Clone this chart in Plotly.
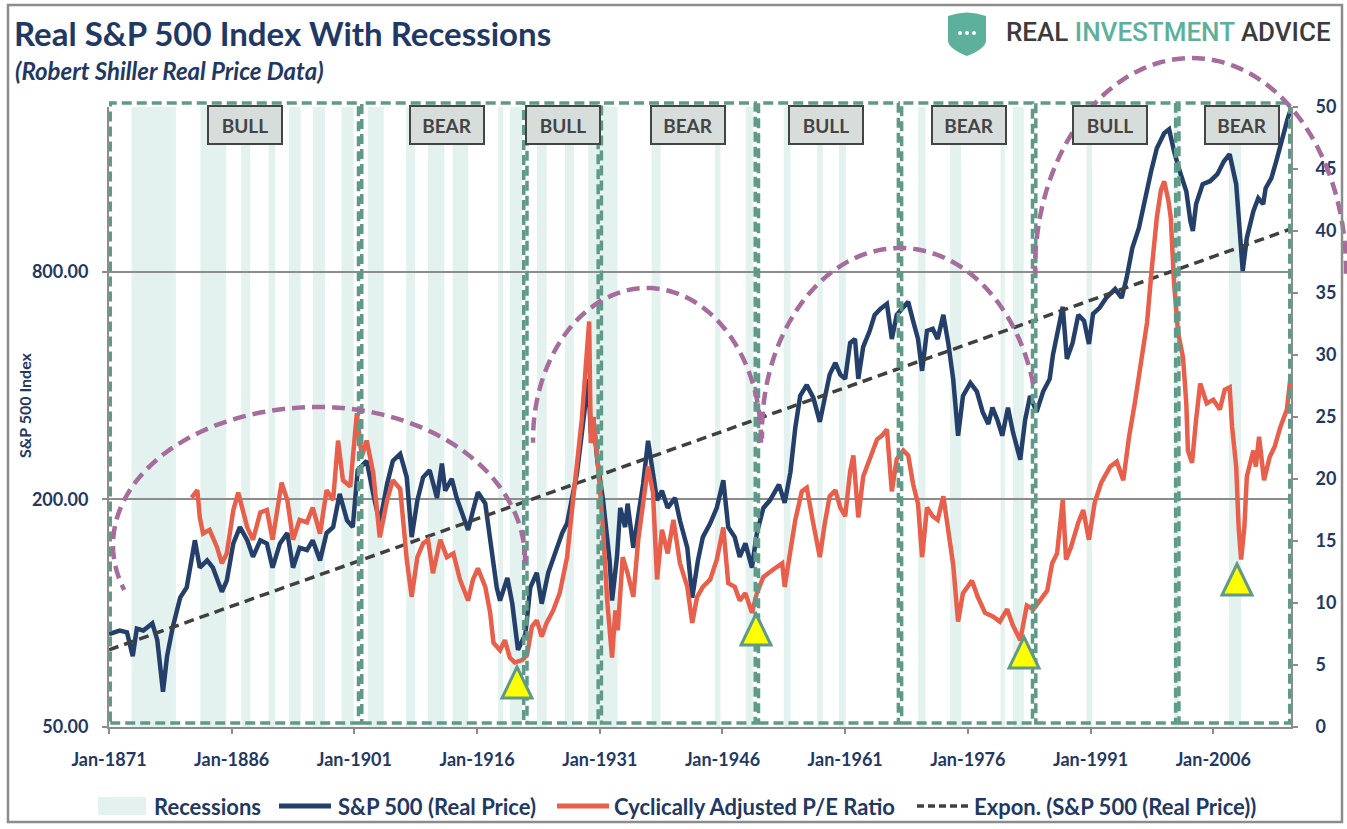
import math
import plotly.graph_objects as go

# ------------------------------------------------------------------ data
sp_year = [1871.0, 1872.3, 1873.2, 1873.9, 1874.4, 1875.2, 1876.3, 1876.9, 1877.6, 1878.1,
           1878.8, 1879.7, 1880.5, 1881.5, 1882.1, 1883.0, 1883.7, 1884.8, 1885.4, 1886.2,
           1887.0, 1887.9, 1888.6, 1889.5, 1890.3, 1891.0, 1891.9, 1892.8, 1893.5, 1894.3,
           1895.2, 1895.9, 1896.8, 1897.6, 1898.4, 1899.2, 1900.1, 1900.8, 1901.4, 1902.5,
           1903.3, 1904.1, 1905.0, 1905.7, 1906.6, 1907.4, 1908.0, 1908.7, 1909.4, 1910.2,
           1911.1, 1911.7, 1912.1, 1912.9, 1913.5, 1914.2, 1914.9, 1915.5, 1916.1, 1917.0,
           1917.6, 1918.4, 1918.8, 1919.7, 1920.3, 1921.0, 1921.9, 1922.5, 1923.3, 1923.9,
           1924.7, 1925.5, 1926.4, 1927.0, 1927.6, 1928.2, 1928.8, 1929.6, 1929.9, 1930.2,
           1930.7, 1931.4, 1932.2, 1932.5, 1933.1, 1933.5, 1934.1, 1934.4, 1935.1, 1935.7,
           1936.3, 1936.9, 1937.4, 1938.0, 1938.6, 1939.3, 1940.2, 1940.8, 1941.7, 1942.3,
           1943.0, 1943.6, 1944.5, 1945.3, 1946.1, 1946.7, 1947.5, 1948.1, 1948.8, 1949.6,
           1950.2, 1951.0, 1951.8, 1952.9, 1953.6, 1954.3, 1954.9, 1955.5, 1956.3, 1957.1,
           1957.9, 1958.5, 1959.1, 1959.8, 1960.4, 1961.0, 1961.6, 1962.2, 1962.6, 1963.2,
           1964.0, 1964.6, 1965.3, 1966.1, 1966.7, 1967.3, 1968.1, 1968.7, 1969.3, 1969.9,
           1970.4, 1971.0, 1971.7, 1972.3, 1973.0, 1973.6, 1974.2, 1974.8, 1975.4, 1976.3,
           1977.1, 1977.8, 1978.5, 1979.0, 1979.6, 1980.2, 1980.9, 1981.5, 1982.4, 1983.0,
           1983.6, 1984.4, 1985.2, 1986.0, 1986.4, 1987.0, 1987.6, 1988.1, 1988.8, 1989.5,
           1990.2, 1990.8, 1991.3, 1992.1, 1992.9, 1994.0, 1994.8, 1995.4, 1996.1, 1996.9,
           1997.5, 1998.4, 1999.1, 2000.0, 2000.6, 2001.2, 2001.9, 2002.7, 2003.2, 2003.5,
           2003.9, 2004.7, 2005.6, 2006.5, 2007.3, 2008.0, 2008.8, 2009.1, 2009.6, 2010.1,
           2010.9, 2011.5, 2012.1, 2012.4, 2013.1, 2013.7, 2014.3, 2015.1, 2015.4]
sp_price = [88, 90, 89, 77, 91, 90, 94, 85, 62, 77,
            92, 110, 117, 156, 132, 138, 132, 114, 122, 153,
            169, 156, 141, 156, 153, 132, 153, 163, 132, 149,
            147, 156, 138, 163, 169, 207, 176, 169, 239, 253,
            207, 173, 220, 253, 264, 229, 159, 199, 229, 239,
            202, 249, 211, 227, 202, 184, 166, 187, 209, 195,
            153, 117, 108, 124, 106, 80, 88, 117, 128, 106,
            128, 144, 163, 173, 199, 234, 299, 417, 299, 330,
            253, 199, 138, 108, 141, 190, 169, 195, 149, 179,
            220, 286, 243, 199, 211, 190, 202, 176, 149, 110,
            138, 159, 173, 190, 225, 169, 159, 141, 153, 132,
            163, 190, 199, 219, 196, 236, 310, 376, 402, 372,
            321, 376, 428, 460, 428, 417, 519, 532, 417, 507,
            559, 616, 639, 659, 532, 616, 647, 667, 594, 532,
            438, 559, 566, 532, 616, 519, 417, 295, 376, 407,
            386, 341, 317, 350, 325, 295, 350, 302, 255, 325,
            376, 341, 386, 417, 483, 559, 647, 471, 519, 616,
            594, 516, 620, 643, 683, 721, 683, 771, 925, 1045,
            1210, 1478, 1700, 1863, 1908, 1670, 1478, 1309, 1091, 1027,
            1210, 1366, 1391, 1452, 1571, 1639, 1366, 1111, 805, 984,
            1159, 1254, 1210, 1333, 1417, 1571, 1774, 2040, 2130]

cape_year = [1881.1, 1881.8, 1882.1, 1882.5, 1883.3, 1884.2, 1884.8, 1885.4, 1886.2, 1886.8,
             1887.9, 1888.6, 1889.5, 1890.3, 1891.0, 1892.1, 1892.8, 1893.5, 1894.3, 1895.2,
             1895.9, 1896.8, 1897.6, 1898.4, 1899.0, 1899.6, 1900.5, 1901.3, 1901.9, 1902.5,
             1903.3, 1904.1, 1905.0, 1905.7, 1906.6, 1907.4, 1908.0, 1908.7, 1909.4, 1910.0,
             1910.6, 1911.5, 1912.3, 1913.1, 1913.9, 1914.9, 1915.5, 1916.1, 1917.0, 1917.6,
             1918.0, 1918.8, 1919.4, 1920.0, 1920.6, 1921.5, 1922.1, 1922.7, 1923.3, 1923.9,
             1924.5, 1925.3, 1926.1, 1927.0, 1927.6, 1928.2, 1928.8, 1929.7, 1929.9, 1930.2,
             1930.8, 1931.4, 1931.9, 1932.5, 1932.9, 1933.2, 1933.8, 1934.4, 1935.1, 1935.7,
             1936.3, 1936.9, 1937.5, 1938.0, 1938.6, 1939.3, 1940.0, 1940.8, 1941.7, 1942.3,
             1942.9, 1943.6, 1944.5, 1945.3, 1946.1, 1946.7, 1947.5, 1948.1, 1948.8, 1949.6,
             1950.2, 1951.0, 1952.2, 1953.3, 1953.6, 1954.3, 1954.9, 1955.7, 1956.3, 1957.1,
             1957.9, 1958.5, 1959.1, 1959.8, 1960.4, 1961.0, 1961.6, 1962.0, 1962.6, 1963.2,
             1964.0, 1964.9, 1965.5, 1966.1, 1966.7, 1967.3, 1968.1, 1968.7, 1969.3, 1969.9,
             1970.4, 1971.0, 1971.7, 1972.3, 1973.0, 1973.6, 1974.2, 1974.8, 1975.4, 1976.5,
             1977.2, 1978.1, 1979.1, 1979.9, 1980.8, 1981.5, 1982.4, 1983.2, 1984.0, 1984.8,
             1985.7, 1986.3, 1986.9, 1987.6, 1988.0, 1988.6, 1989.5, 1990.1, 1990.8, 1991.5,
             1992.3, 1993.4, 1994.2, 1995.0, 1995.7, 1996.4, 1997.3, 1997.9, 1998.5, 1999.1,
             1999.6, 2000.0, 2000.5, 2000.8, 2001.2, 2001.7, 2002.3, 2002.7, 2002.9, 2003.4,
             2003.9, 2004.4, 2005.2, 2006.0, 2006.8, 2007.4, 2008.0, 2008.3, 2008.8, 2009.1,
             2009.4, 2009.8, 2010.1, 2010.9, 2011.2, 2011.6, 2012.2, 2012.9, 2013.5, 2014.2,
             2015.0, 2015.4]
cape_ratio = [18.5, 19.1, 16.9, 15.6, 15.9, 14.5, 13.2, 14.0, 17.5, 18.9,
              16.1, 15.1, 17.3, 17.5, 15.1, 19.7, 18.3, 15.1, 16.7, 16.5,
              17.7, 15.6, 19.1, 18.3, 23.1, 19.9, 19.4, 25.3, 21.8, 23.1,
              20.5, 15.3, 18.3, 19.9, 19.2, 13.5, 10.5, 13.7, 14.8, 15.1,
              12.4, 15.1, 13.7, 14.0, 11.9, 10.2, 11.9, 12.8, 11.3, 9.2,
              6.8, 6.2, 7.0, 5.6, 5.2, 5.4, 5.8, 8.1, 8.6, 7.3,
              8.4, 9.4, 10.8, 13.7, 17.5, 21.0, 24.8, 32.7, 22.9, 25.0,
              21.0, 15.9, 10.2, 5.6, 9.4, 7.8, 13.7, 12.4, 10.5, 15.1,
              18.3, 21.0, 18.9, 11.9, 15.9, 14.0, 16.7, 13.2, 11.3, 8.4,
              10.5, 11.3, 11.9, 13.5, 16.1, 11.6, 11.3, 10.2, 10.8, 9.2,
              10.8, 12.1, 12.7, 13.2, 11.3, 14.1, 16.7, 19.0, 19.3, 16.4,
              13.7, 16.4, 18.6, 19.1, 17.7, 17.0, 20.6, 21.9, 16.9, 20.2,
              21.6, 23.2, 23.5, 24.0, 19.0, 21.6, 22.3, 21.9, 19.6, 18.0,
              13.7, 17.7, 17.0, 16.7, 18.6, 15.7, 13.1, 8.5, 10.8, 11.8,
              10.5, 9.2, 8.9, 8.5, 9.5, 8.2, 7.0, 9.8, 9.5, 10.2,
              11.0, 13.2, 14.0, 18.3, 13.5, 14.5, 16.5, 17.5, 15.1, 18.1,
              19.7, 21.0, 21.4, 19.9, 23.4, 26.1, 29.8, 32.6, 37.1, 41.1,
              43.3, 44.0, 42.5, 41.1, 35.8, 31.8, 29.8, 26.1, 22.3, 21.3,
              24.8, 27.7, 26.1, 26.4, 25.6, 27.2, 27.4, 24.2, 21.0, 16.1,
              13.5, 16.1, 20.2, 22.3, 21.0, 23.4, 19.9, 21.8, 22.6, 24.2,
              25.6, 28.0]

trend_year = [1871.0, 2015.5]
trend_price = [80, 1040]

rec_start = [1873.75, 1882.17, 1887.17, 1890.5, 1893.0, 1895.92, 1899.42, 1902.67, 1907.33,
             1910.0, 1913.0, 1918.58, 1920.0, 1923.33, 1926.75, 1929.58, 1937.33, 1945.08,
             1948.83, 1953.5, 1957.58, 1960.25, 1969.92, 1973.83, 1980.0, 1981.5, 1990.5,
             2001.17, 2007.92]
rec_end = [1879.17, 1885.33, 1888.25, 1891.33, 1894.42, 1897.42, 1900.92, 1904.58, 1908.42,
           1912.0, 1914.92, 1919.17, 1921.5, 1924.5, 1927.83, 1933.17, 1938.42, 1945.75,
           1949.75, 1954.33, 1958.25, 1961.08, 1970.83, 1975.17, 1980.5, 1982.83, 1991.17,
           2001.83, 2009.42]

x_tick_years = [1871, 1886, 1901, 1916, 1931, 1946, 1961, 1976, 1991, 2006]
x_tick_text = ["Jan-1871", "Jan-1886", "Jan-1901", "Jan-1916", "Jan-1931",
               "Jan-1946", "Jan-1961", "Jan-1976", "Jan-1991", "Jan-2006"]
left_tick_vals = [50, 200, 800]
left_tick_text = ["50.00", "200.00", "800.00"]
right_tick_vals = [0, 5, 10, 15, 20, 25, 30, 35, 40, 45, 50]

phase_bounds = [1871.15, 1901.7, 1921.9, 1931.0, 1950.2, 1967.7, 1984.1, 2001.6, 2015.35]
phase_labels = ["BULL", "BEAR", "BULL", "BEAR", "BULL", "BEAR", "BULL", "BEAR"]
phase_label_years = [1887.6, 1912.3, 1926.5, 1941.8, 1958.7, 1976.1, 1993.4, 2009.5]

# ------------------------------------------------------------------ layout helpers
FIG_W, FIG_H = 1347, 829
L, R, T, B = 109, 1291, 107, 727


def px(x):
    return (x - L) / (R - L)


def py(y):
    return (B - y) / (B - T)


NAVY_TEXT = "#1F3864"
NAVY_LINE = "#24406A"
RED_LINE = "#E8604C"
GREEN = "#5F9A88"
PURPLE = "#A56C9C"
GRAY = "#8C8C8C"
FONT = "Lato"


def ellipse_pts(cx, cy, rx, ry, t0, t1, n=40):
    pts = []
    for i in range(n + 1):
        t = math.radians(t0 + (t1 - t0) * i / n)
        pts.append((cx + rx * math.cos(t), cy - ry * math.sin(t)))
    return pts


def pts_path(pts, close=False):
    s = "M " + " L ".join(f"{px(x):.5f},{py(y):.5f}" for x, y in pts)
    return s + (" Z" if close else "")


def arc(cx, right, left):
    # right / left: (cy, rx, ry, t_end)
    cyr, rxr, ryr, tr = right
    cyl, rxl, ryl, tl = left
    pts = ellipse_pts(cx, cyr, rxr, ryr, tr, 90) + ellipse_pts(cx, cyl, rxl, ryl, 90, tl)[1:]
    return pts_path(pts)


shapes = []

# recession bands
for s, e in zip(rec_start, rec_end):
    shapes.append(dict(type="rect", xref="x", yref="paper", x0=s, x1=e, y0=0, y1=1,
                       fillcolor="#E3F2EE", line=dict(width=0), layer="between"))

# phase boxes (green dashed)
for i in range(len(phase_bounds) - 1):
    x0 = phase_bounds[i] + (0 if i == 0 else 0.2)
    x1 = phase_bounds[i + 1] - (0 if i == len(phase_bounds) - 2 else 0.2)
    shapes.append(dict(type="rect", xref="x", yref="paper", x0=x0, x1=x1,
                       y0=py(723), y1=py(103), fillcolor="rgba(0,0,0,0)",
                       line=dict(color=GREEN, width=3.5, dash="10px,5px"), layer="above"))

# purple arcs
arcs = [
    arc(318, (560, 207, 153, -1), (545, 205, 138, 199)),
    arc(647, (440, 114, 152, -1), (440, 114, 152, 181)),
    arc(900, (432, 138, 184, 15), (432, 138, 184, 182)),
    arc(1192, (270, 154, 212, -1), (270, 157, 212, 181)),
]
for p in arcs:
    shapes.append(dict(type="path", xref="paper", yref="paper", path=p,
                       line=dict(color=PURPLE, width=4.5, dash="13px,7px"), layer="above"))

# yellow triangles
for cx, top in [(517, 667), (756, 614), (1024, 637), (1237, 564)]:
    tri = [(cx, top), (cx + 15, top + 31), (cx - 15, top + 31)]
    shapes.append(dict(type="path", xref="paper", yref="paper", path=pts_path(tri, True),
                       fillcolor="#FFFF00", line=dict(color=GREEN, width=3), layer="above"))

# outer frame
shapes.append(dict(type="rect", xref="paper", yref="paper", x0=px(8), x1=px(1342),
                   y0=py(822), y1=py(5), line=dict(color=GRAY, width=2.5),
                   fillcolor="rgba(0,0,0,0)", layer="above"))

# logo shield
shield = (f"M {px(948):.5f},{py(16):.5f} Q {px(967):.5f},{py(9):.5f} {px(986):.5f},{py(16):.5f} "
          f"L {px(986):.5f},{py(41):.5f} Q {px(985):.5f},{py(49):.5f} {px(967):.5f},{py(56):.5f} "
          f"Q {px(949):.5f},{py(49):.5f} {px(948):.5f},{py(41):.5f} Z")
shapes.append(dict(type="path", xref="paper", yref="paper", path=shield,
                   fillcolor="#5DB09C", line=dict(width=0), layer="above"))
for dx in (960, 967, 974):
    shapes.append(dict(type="circle", xref="paper", yref="paper",
                       x0=px(dx - 2), x1=px(dx + 2), y0=py(35), y1=py(31),
                       fillcolor="white", line=dict(width=0), layer="above"))

# legend marks
shapes.append(dict(type="rect", xref="paper", yref="paper", x0=px(98), x1=px(146),
                   y0=py(815), y1=py(797), fillcolor="#E3F2EE", line=dict(width=0)))
shapes.append(dict(type="line", xref="paper", yref="paper", x0=px(279), x1=px(331),
                   y0=py(806), y1=py(806), line=dict(color=NAVY_LINE, width=5)))
shapes.append(dict(type="line", xref="paper", yref="paper", x0=px(557), x1=px(609),
                   y0=py(806), y1=py(806), line=dict(color=RED_LINE, width=5)))
shapes.append(dict(type="line", xref="paper", yref="paper", x0=px(917), x1=px(969),
                   y0=py(806), y1=py(806), line=dict(color="#404040", width=3.5, dash="7px,4px")))

annotations = []


def text_at(x, y, txt, size, color=NAVY_TEXT, xanchor="left", weight="bold", family=FONT, **kw):
    annotations.append(dict(x=px(x), y=py(y), xref="paper", yref="paper", text=txt,
                            showarrow=False, xanchor=xanchor, yanchor="middle",
                            font=dict(family=family, size=size, color=color, weight=weight), **kw))


text_at(12, 33, "Real S&P 500 Index With Recessions", 33)
text_at(13, 70, "<i>(Robert Shiller Real Price Data)</i>", 24)
text_at(1004, 32, 'REAL <span style="color:#5DB09C">INVESTMENT</span> ADVICE', 26,
        color="#3B3B3B", weight=500, family="Roboto")
text_at(25, 405, "S&P 500 Index", 16, xanchor="center", textangle=-90)

text_at(152, 806, "Recessions", 22)
text_at(336, 806, "S&P 500 (Real Price)", 22)
text_at(612, 806, "Cyclically Adjusted P/E Ratio", 22)
text_at(972, 806, "Expon. (S&P 500 (Real Price))", 22)

for name, yr in zip(phase_labels, phase_label_years):
    annotations.append(dict(x=yr, xref="x", y=py(125), yref="paper", text=name,
                            showarrow=False, xanchor="center", yanchor="middle",
                            font=dict(family=FONT, size=19, color="#444444", weight="bold"),
                            bgcolor="#D6DDDA", bordercolor="#444444", borderwidth=2,
                            borderpad=0, width=72, height=36))

# ------------------------------------------------------------------ figure
fig = go.Figure()
fig.add_trace(go.Scatter(x=sp_year, y=sp_price, mode="lines", yaxis="y",
                         line=dict(color=NAVY_LINE, width=4.5), hoverinfo="skip",
                         showlegend=False, name="S&P 500 (Real Price)"))
fig.add_trace(go.Scatter(x=trend_year, y=trend_price, mode="lines", yaxis="y",
                         line=dict(color="#404040", width=3.5, dash="10px,6px"),
                         hoverinfo="skip", showlegend=False,
                         name="Expon. (S&P 500 (Real Price))"))
fig.add_trace(go.Scatter(x=cape_year, y=cape_ratio, mode="lines", yaxis="y2",
                         line=dict(color=RED_LINE, width=4.5), hoverinfo="skip",
                         showlegend=False, name="Cyclically Adjusted P/E Ratio"))

tick_font = dict(family=FONT, size=18, color=NAVY_TEXT, weight="bold")
fig.update_layout(
    width=FIG_W, height=FIG_H, autosize=False,
    margin=dict(l=L, r=FIG_W - R, t=T, b=FIG_H - B, pad=0),
    paper_bgcolor="white", plot_bgcolor="white",
    showlegend=False,
    xaxis=dict(range=[1871.0, 2015.5], tickmode="array", tickvals=x_tick_years,
               ticktext=x_tick_text, showgrid=False, zeroline=False, showline=True,
               linecolor=GRAY, linewidth=2, ticks="outside", ticklen=5, tickwidth=1.5,
               tickcolor=GRAY, tickfont=tick_font, ticklabelstandoff=10, fixedrange=True),
    yaxis=dict(type="log", range=[math.log10(50), 3.3397], tickmode="array",
               tickvals=left_tick_vals, ticktext=left_tick_text, showgrid=True,
               gridcolor=GRAY, gridwidth=2, zeroline=False, showline=True,
               linecolor=GRAY, linewidth=2, ticks="outside", ticklen=5, tickwidth=1.5,
               tickcolor=GRAY, tickfont=tick_font, ticklabelstandoff=10, fixedrange=True),
    yaxis2=dict(overlaying="y", side="right", range=[0, 50], tickmode="array",
                tickvals=right_tick_vals, showgrid=False, zeroline=False, showline=True,
                linecolor=GRAY, linewidth=2, ticks="outside", ticklen=5, tickwidth=1.5,
                tickcolor=GRAY, tickfont=tick_font, ticklabelstandoff=14, fixedrange=True),
    shapes=shapes,
    annotations=annotations,
)

fig.write_html("out.html")
